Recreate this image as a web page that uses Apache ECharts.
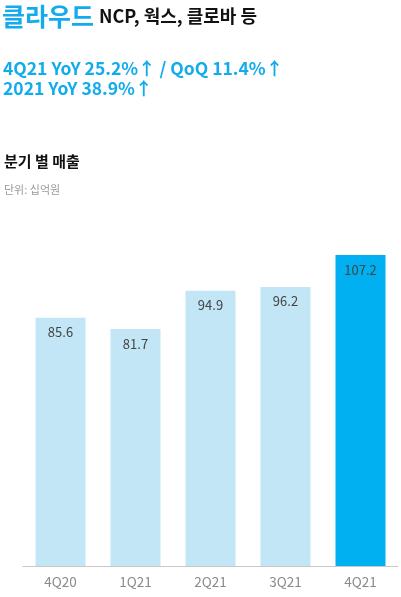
<!DOCTYPE html>
<html><head><meta charset="utf-8">
<script src="https://cdn.jsdelivr.net/npm/echarts@6/dist/echarts.min.js"></script>
<style>html,body{margin:0;padding:0;background:#fff}#c{width:401px;height:597px}</style>
</head><body><div id="c"></div>
<script>
const categories = ['4Q20','1Q21','2Q21','3Q21','4Q21'];
const revenue = [85.6, 81.7, 94.9, 96.2, 107.2];
const highlightIndex = 4;

const FONT = '"Noto Sans CJK KR", "Noto Sans", sans-serif';
const BLUE = '#12ACEC';
const chart = echarts.init(document.getElementById('c'), null, {renderer:'canvas'});
chart.setOption({
  animation:false,
  backgroundColor:'#fff',
  title:[
    {text:'{a|클라우드} {b|NCP, 웍스, 클로바 등}', left:2, top:4, padding:0,
     textStyle:{rich:{a:{fontFamily:FONT,fontSize:25,fontWeight:'bold',color:BLUE},
                      b:{fontFamily:FONT,fontSize:18,fontWeight:'bold',color:'#111'}}}},
    {text:'4Q21 YoY 25.2%↑ / QoQ 11.4%↑\n2021 YoY 38.9%↑', left:3, top:58, padding:0,
     textStyle:{fontFamily:FONT,fontSize:17.5,fontWeight:'bold',color:BLUE,lineHeight:20}},
    {text:'분기 별 매출', left:4, top:154, padding:0,
     textStyle:{fontFamily:FONT,fontSize:15,fontWeight:'bold',color:'#111'}},
    {text:'단위: 십억원', left:4, top:184, padding:0,
     textStyle:{fontFamily:FONT,fontSize:11,fontWeight:'normal',color:'#999'}}
  ],
  grid:{left:23, right:3, top:247, bottom:31},
  xAxis:{type:'category', data:categories,
    axisLine:{lineStyle:{color:'#c8c8c8',width:1}}, axisTick:{show:false},
    axisLabel:{color:'#8a8a8a',fontFamily:FONT,fontSize:13.5,margin:9}},
  yAxis:{type:'value', min:0, max:110, show:false, splitLine:{show:false}},
  series:[{type:'bar', barWidth:50,
    data:revenue.map((v,i)=>({value:v, itemStyle:{color: i===highlightIndex ? '#00B0F0' : '#C2E6F5'}})),
    label:{show:true, position:'insideTop', distance:8, color:'#444', fontFamily:FONT, fontSize:13,
      formatter:p=>p.value.toFixed(1)}}]
});
</script></body></html>
